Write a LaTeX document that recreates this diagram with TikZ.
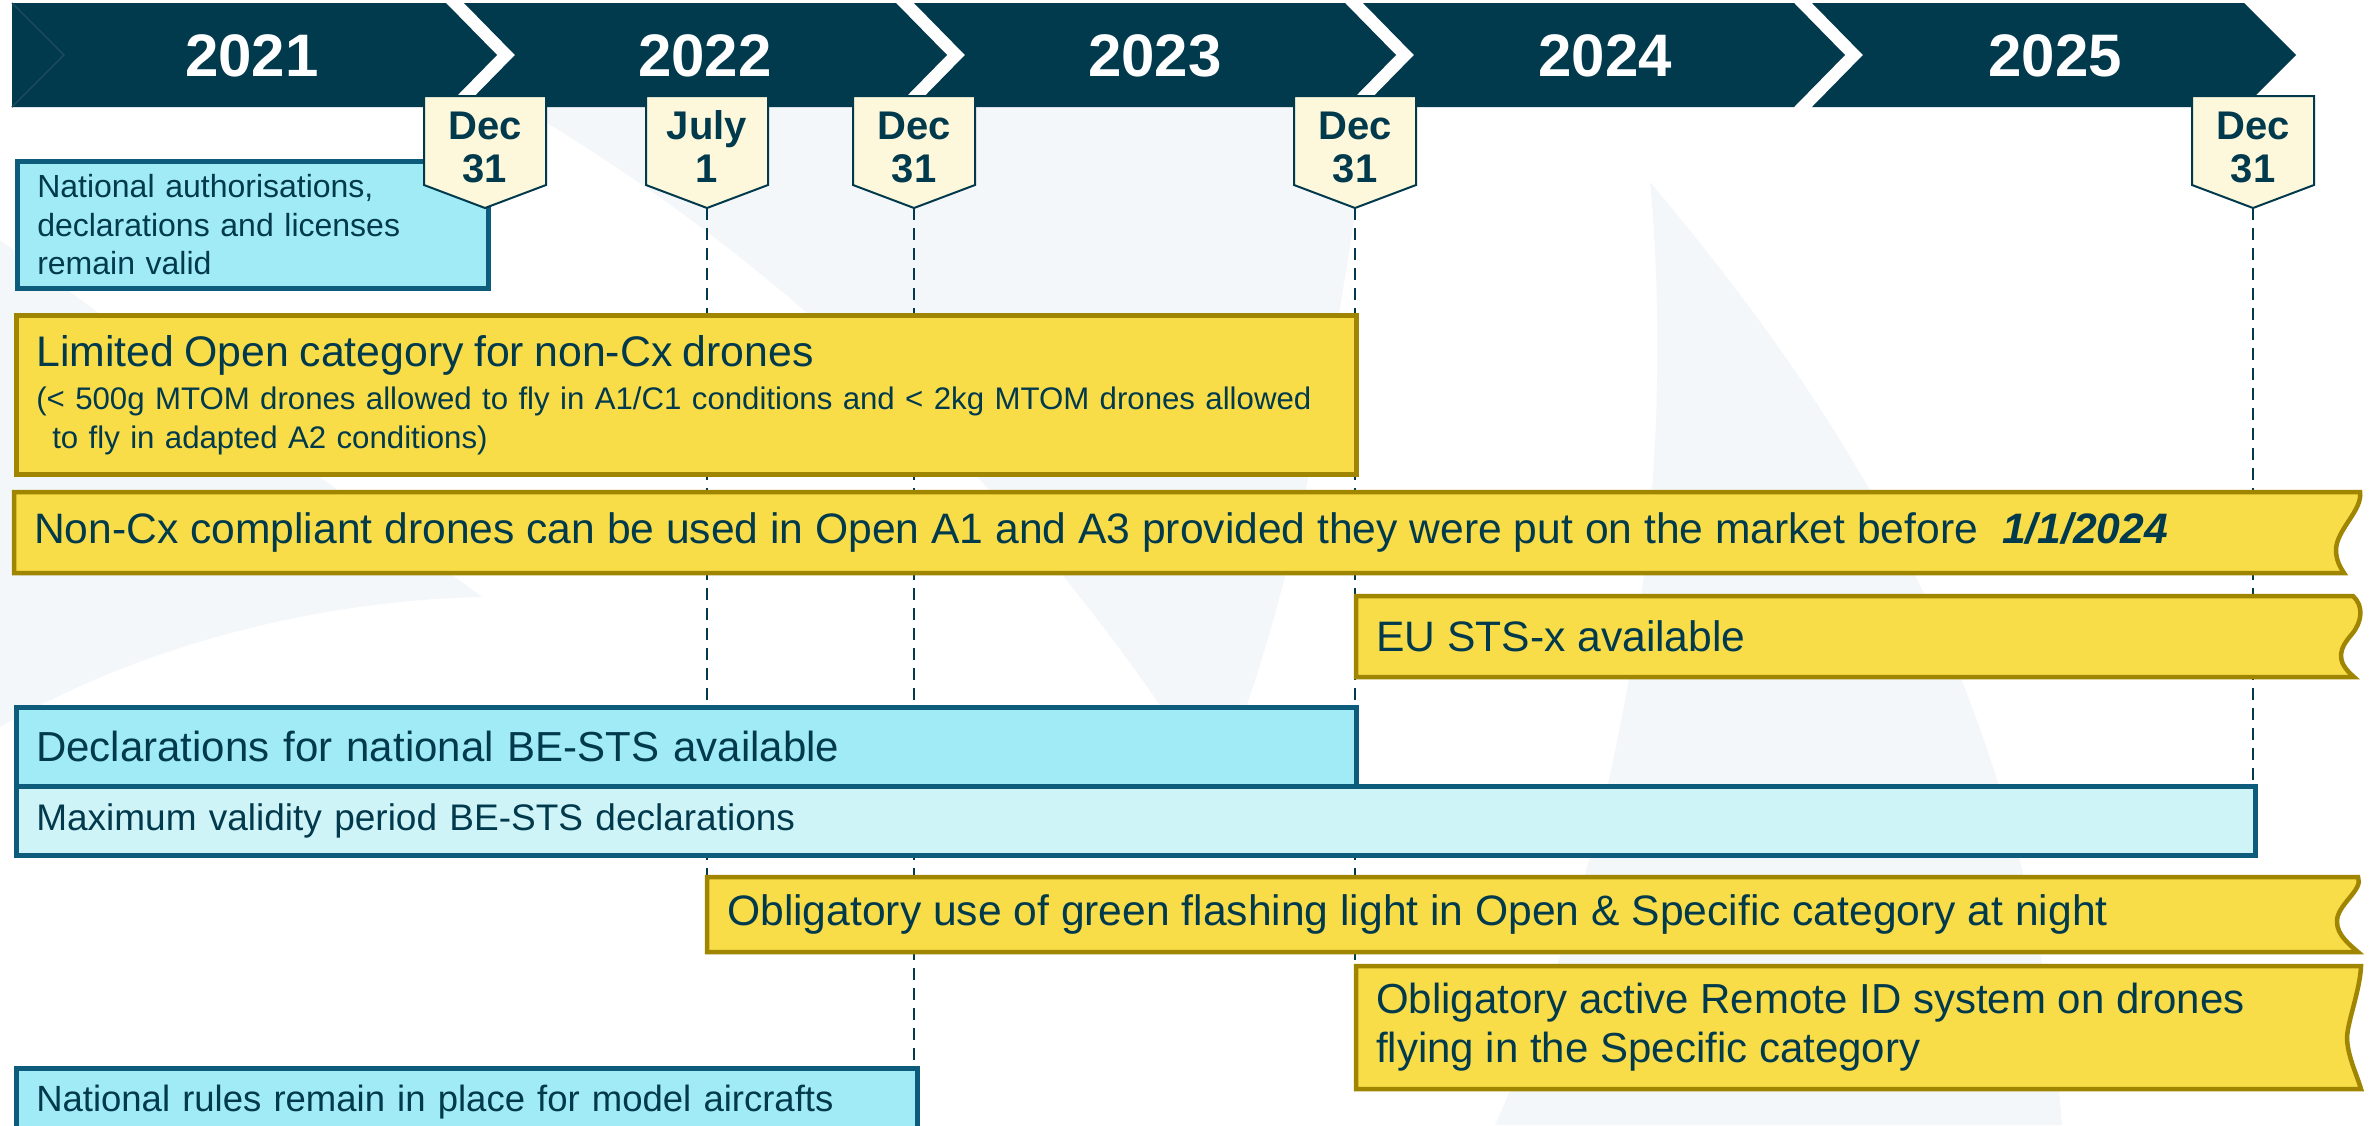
\documentclass[tikz,border=0pt]{standalone}
\usepackage{fontspec}
\setmainfont{Liberation Sans}
\definecolor{barteal}{HTML}{023A4D}
\definecolor{tagfill}{HTML}{FDF8DB}
\definecolor{cyanfill}{HTML}{A0EBF5}
\definecolor{cyanpale}{HTML}{CEF4F8}
\definecolor{cyanline}{HTML}{0E5C7C}
\definecolor{sunfill}{HTML}{F8DC48}
\definecolor{sunline}{HTML}{A08600}
\definecolor{ghostgrey}{HTML}{F4F7F9}
\definecolor{notchline}{HTML}{1A4A5B}

\begin{document}
\begin{tikzpicture}[x=1pt,y=1pt]
    \tikzstyle{every node}+=[inner sep=0pt, text=barteal]
    \tikzstyle{yearlabel}=[font=\fontsize{60}{60}\selectfont\bfseries, text=white]
    \tikzstyle{tagshape}=[draw=barteal, fill=tagfill, line width=2pt]
    \tikzstyle{taglabel}=[font=\fontsize{40}{43}\selectfont\bfseries, align=center]
    \tikzstyle{dateline}=[barteal, line width=2.5pt, dash pattern=on 12pt off 8pt]
    \tikzstyle{cyanbox}=[draw=cyanline, fill=cyanfill, line width=4.5pt, anchor=north west, inner xsep=20pt, align=left]
    \tikzstyle{palebox}=[cyanbox, fill=cyanpale]
    \tikzstyle{sunbox}=[draw=sunline, fill=sunfill, line width=4.5pt, anchor=north west, inner xsep=20pt, align=left]
    \tikzstyle{torn}=[draw=sunline, fill=sunfill, line width=4.5pt]
    \tikzstyle{tornlabel}=[anchor=west, inner xsep=20pt, align=left, font=\fontsize{42.6}{49}\selectfont]
    \useasboundingbox (0,0) rectangle (2377,-1125);
    \clip (0,0) rectangle (2377,-1125);
    \fill[white] (0,0) rectangle (2377,-1125);
    % faint logo behind everything
    \fill[ghostgrey] (0,-240) -- (482,-597) .. controls (330,-600) and (150,-640) .. (0,-727) -- cycle;
    \fill[ghostgrey] (520,-107) .. controls (800,-270) and (1050,-520) .. (1215,-790) .. controls (1310,-560) and (1340,-300) .. (1372,-107) -- cycle;
    \fill[ghostgrey] (1495,-1125) .. controls (1640,-800) and (1675,-450) .. (1650,-182) .. controls (1850,-420) and (2030,-700) .. (2062,-1125) -- cycle;
    % year bar
    \fill[barteal] (12,-3) -- (446,-3) -- (497,-55) -- (446,-107) -- (12,-107) -- cycle;
    \draw[notchline, line width=1.5pt] (12,-3) -- (64,-55) -- (12,-107);
    \fill[barteal] (464,-3) -- (896,-3) -- (947,-55) -- (896,-107) -- (464,-107) -- (515,-55) -- cycle;
    \fill[barteal] (914,-3) -- (1345,-3) -- (1396,-55) -- (1345,-107) -- (914,-107) -- (965,-55) -- cycle;
    \fill[barteal] (1363,-3) -- (1794,-3) -- (1845,-55) -- (1794,-107) -- (1363,-107) -- (1414,-55) -- cycle;
    \fill[barteal] (1812,-3) -- (2244,-3) -- (2296,-55) -- (2244,-107) -- (1812,-107) -- (1863,-55) -- cycle;
    \node[yearlabel] (y2021) at (252,-56) {2021};
    \node[yearlabel] (y2022) at (705,-56) {2022};
    \node[yearlabel] (y2023) at (1155,-56) {2023};
    \node[yearlabel] (y2024) at (1605,-56) {2024};
    \node[yearlabel] (y2025) at (2055,-56) {2025};
    % date lines
    \coordinate (jul22tip) at (707,-208);
    \coordinate (jul22end) at (707,-877);
    \coordinate (dec22tip) at (914,-208);
    \coordinate (dec22end) at (914,-1066);
    \coordinate (dec23tip) at (1355,-208);
    \coordinate (dec23end) at (1355,-966);
    \coordinate (dec25tip) at (2253,-208);
    \coordinate (dec25end) at (2253,-784);
    \draw[dateline] (jul22tip) -- (jul22end);
    \draw[dateline] (dec22tip) -- (dec22end);
    \draw[dateline] (dec23tip) -- (dec23end);
    \draw[dateline] (dec25tip) -- (dec25end);
    % boxes
    \node[cyanbox, text width=431pt, minimum height=127pt, font=\fontsize{32}{38.5}\selectfont] (natauth) at (15,-159) {National authorisations,\\declarations and licenses\\remain valid};
    \node[sunbox, text width=1300pt, minimum height=159pt, font=\fontsize{31.2}{39}\selectfont] (limopen) at (14,-313) {{\fontsize{42.8}{39}\selectfont Limited Open category for non-Cx drones}\\[4pt]\mbox{(< 500g MTOM drones allowed to fly in A1/C1 conditions and < 2kg MTOM drones allowed}\\\mbox{\hspace*{16pt}to fly in adapted A2 conditions)}};
    \filldraw[torn] (14,-492) -- (2360,-492) .. controls (2363,-510) and (2336,-530) .. (2336,-550) .. controls (2336,-560) and (2340,-567) .. (2344,-573) -- (14,-573) -- cycle;
    \node[tornlabel] (noncx) at (14,-532.5) {Non-Cx compliant drones can be used in Open A1 and A3 provided they were put on the market before\ \ \textbf{\textit{1/1/2024}}};
    \filldraw[torn] (1356,-596) -- (2353,-596) .. controls (2364,-606) and (2362,-622) .. (2352,-634) .. controls (2340,-648) and (2334,-660) .. (2354,-677) -- (1356,-677) -- cycle;
    \node[tornlabel] (eusts) at (1356,-636.5) {EU STS-x available};
    \node[cyanbox, text width=1300pt, minimum height=79pt, font=\fontsize{42}{49}\selectfont] (bests) at (14,-705) {Declarations for national BE-STS available};
    \node[palebox, text width=2199pt, minimum height=69pt, font=\fontsize{37}{44}\selectfont] (maxval) at (14,-784) {Maximum validity period BE-STS declarations};
    \filldraw[torn] (707,-877) -- (2358,-877) .. controls (2364,-890) and (2336,-905) .. (2337,-922) .. controls (2337,-935) and (2350,-945) .. (2358,-952) -- (707,-952) -- cycle;
    \node[tornlabel] (greenlight) at (707,-914.5) {Obligatory use of green flashing light in Open \& Specific category at night};
    \filldraw[torn] (1356,-966) -- (2361,-966) .. controls (2360,-990) and (2348,-1020) .. (2347,-1037) .. controls (2347,-1055) and (2357,-1075) .. (2361,-1089) -- (1356,-1089) -- cycle;
    \node[tornlabel, font=\fontsize{42}{49}\selectfont] (remoteid) at (1356,-1027.5) {Obligatory active Remote ID system on drones\\flying in the Specific category};
    \node[cyanbox, text width=861pt, minimum height=68pt, font=\fontsize{36.5}{44}\selectfont] (modelac) at (14,-1066) {National rules remain in place for model aircrafts};
    % date tags
    \filldraw[tagshape] (424,-96) -- (546,-96) -- (546,-185) -- (485,-208) -- (424,-185) -- cycle;
    \node[taglabel] (dec21) at (485,-147) {Dec\\31};
    \filldraw[tagshape] (646,-96) -- (768,-96) -- (768,-185) -- (707,-208) -- (646,-185) -- cycle;
    \node[taglabel] (jul22) at (707,-147) {July\\1};
    \filldraw[tagshape] (853,-96) -- (975,-96) -- (975,-185) -- (914,-208) -- (853,-185) -- cycle;
    \node[taglabel] (dec22) at (914,-147) {Dec\\31};
    \filldraw[tagshape] (1294,-96) -- (1416,-96) -- (1416,-185) -- (1355,-208) -- (1294,-185) -- cycle;
    \node[taglabel] (dec23) at (1355,-147) {Dec\\31};
    \filldraw[tagshape] (2192,-96) -- (2314,-96) -- (2314,-185) -- (2253,-208) -- (2192,-185) -- cycle;
    \node[taglabel] (dec25) at (2253,-147) {Dec\\31};
\end{tikzpicture}
\end{document}
